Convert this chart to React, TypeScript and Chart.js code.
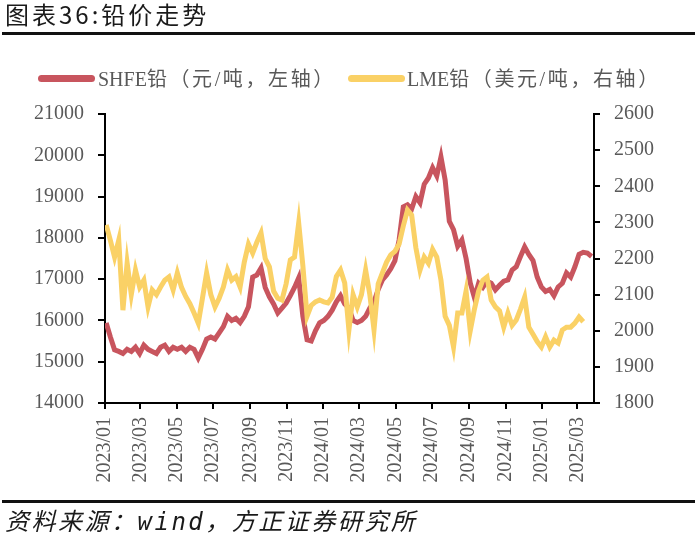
import React, { useEffect, useRef } from "react";
import { Chart, registerables } from "chart.js";

Chart.register(...registerables);

// ---- data ----
const START_UTC = Date.UTC(2023, 0, 1);
const DAY_MS = 86400000;
const FIRST_OBS_DAY = 2; // 2023-01-03
const STEP_DAYS = 7; // weekly observations

const tickLabels = [
  "2023/01", "2023/03", "2023/05", "2023/07", "2023/09", "2023/11",
  "2024/01", "2024/03", "2024/05", "2024/07", "2024/09", "2024/11",
  "2025/01", "2025/03",
];

const leftTicks = [14000, 15000, 16000, 17000, 18000, 19000, 20000, 21000];
const rightTicks = [1800, 1900, 2000, 2100, 2200, 2300, 2400, 2500, 2600];

// SHFE lead, CNY/t (left axis), weekly
const shfeValues = [
  15940, 15600, 15290, 15250, 15200, 15300, 15250, 15350, 15200, 15400,
  15300, 15250, 15200, 15350, 15400, 15250, 15350, 15300, 15350, 15250,
  15350, 15300, 15090, 15300, 15550, 15600, 15550, 15700, 15850, 16100,
  16000, 16050, 15950, 16100, 16330, 17050, 17100, 17270, 16800, 16570,
  16400, 16180, 16300, 16420, 16600, 16800, 17030, 16100, 15530, 15500,
  15750, 15940, 16000, 16100, 16250, 16450, 16600, 16400, 16300, 16000,
  15950, 16000, 16100, 16300, 16450, 16750, 16980, 17100, 17250, 17450,
  17950, 18750, 18800, 18700, 19000, 18850, 19300, 19450, 19700, 19500,
  19960, 19400, 18400, 18200, 17800, 17950, 17500, 16910, 16550, 16900,
  16800, 16950, 16900, 16740, 16850, 16950, 16980, 17220, 17300, 17550,
  17780, 17600, 17450, 17050, 16810, 16700, 16750, 16600, 16810, 16900,
  17150, 17050, 17300, 17600, 17650, 17630, 17550,
];

// LME lead, USD/t (right axis), weekly
const lmeValues = [
  2293, 2250, 2204, 2251, 2057, 2188, 2100, 2168, 2121, 2140,
  2066, 2113, 2100, 2121, 2140, 2149, 2113, 2160, 2120, 2095,
  2075, 2049, 2021, 2090, 2160, 2100, 2066, 2090, 2121, 2168,
  2140, 2150, 2121, 2190, 2240, 2215, 2245, 2271, 2200, 2177,
  2110, 2090, 2085, 2130, 2196, 2204, 2298, 2180, 2040, 2070,
  2080, 2085, 2080, 2077, 2093, 2150, 2168, 2132, 2002, 2100,
  2066, 2100, 2168, 2100, 2002, 2130, 2160, 2190, 2210, 2220,
  2240, 2290, 2334, 2320, 2230, 2168, 2204, 2187, 2225, 2204,
  2140, 2040, 2015, 1955, 2049, 2049, 2110, 2000, 2060, 2110,
  2140, 2149, 2085, 2066, 2055, 2010, 2049, 2015, 2030, 2060,
  2093, 2010, 1990, 1970, 1955, 1983, 1955, 1974, 1966, 2002,
  2010, 2010, 2021, 2038, 2025,
];

const RED = "#C8555E";
const YELLOW = "#FAD166";
const TEXT_GRAY = "#595959";
const SERIF = "'Liberation Serif', 'Times New Roman', 'Noto Sans CJK SC', serif";

function labelToDay(label: string): number {
  const [y, m] = label.split("/").map(Number);
  return (Date.UTC(y, m - 1, 1) - START_UTC) / DAY_MS;
}

const tickDays = tickLabels.map(labelToDay);
const toPoints = (vals: number[]) =>
  vals.map((v, i) => ({ x: FIRST_OBS_DAY + i * STEP_DAYS, y: v }));

export default function App() {
  const canvasRef = useRef<HTMLCanvasElement | null>(null);

  useEffect(() => {
    if (!canvasRef.current) return;
    const tickFont = { family: SERIF, size: 20 };
    const chart = new Chart(canvasRef.current, {
      type: "line",
      data: {
        datasets: [
          {
            label: "SHFE铅（元/吨，左轴）",
            data: toPoints(shfeValues),
            borderColor: RED,
            backgroundColor: RED,
            borderWidth: 5,
            pointRadius: 0,
            tension: 0,
            yAxisID: "y",
            order: 2,
          },
          {
            label: "LME铅（美元/吨，右轴）",
            data: toPoints(lmeValues),
            borderColor: YELLOW,
            backgroundColor: YELLOW,
            borderWidth: 5,
            pointRadius: 0,
            tension: 0,
            yAxisID: "y2",
            order: 1,
          },
        ],
      },
      options: {
        responsive: false,
        animation: false,
        devicePixelRatio: 1,
        layout: { padding: { top: 114, left: 0, right: 0, bottom: 0 } },
        plugins: { legend: { display: false }, tooltip: { enabled: false } },
        scales: {
          x: {
            type: "linear",
            min: 0,
            max: 818,
            afterBuildTicks: (s: any) => {
              s.ticks = tickDays.map((v) => ({ value: v }));
            },
            afterFit: (s: any) => {
              s.height = 135;
            },
            ticks: {
              autoSkip: false,
              maxRotation: 90,
              minRotation: 90,
              padding: 8,
              color: TEXT_GRAY,
              font: tickFont,
              callback: (v: any) => {
                const idx = tickDays.indexOf(Number(v));
                return idx >= 0 ? tickLabels[idx] : "";
              },
            },
            grid: {
              drawOnChartArea: false,
              drawTicks: true,
              tickLength: 6,
              color: "#000",
              lineWidth: 2,
            },
            border: { color: "#000", width: 2 },
          },
          y: {
            position: "left",
            min: leftTicks[0],
            max: leftTicks[leftTicks.length - 1],
            afterBuildTicks: (s: any) => {
              s.ticks = leftTicks.map((v) => ({ value: v }));
            },
            afterFit: (s: any) => {
              s.width = 105;
            },
            ticks: {
              padding: 14,
              color: TEXT_GRAY,
              font: tickFont,
              callback: (v: any) => String(v),
            },
            grid: {
              drawOnChartArea: false,
              drawTicks: true,
              tickLength: 7,
              color: "#000",
              lineWidth: 2,
            },
            border: { color: "#000", width: 2 },
          },
          y2: {
            position: "right",
            min: rightTicks[0],
            max: rightTicks[rightTicks.length - 1],
            afterBuildTicks: (s: any) => {
              s.ticks = rightTicks.map((v) => ({ value: v }));
            },
            afterFit: (s: any) => {
              s.width = 106;
            },
            ticks: {
              padding: 14,
              color: TEXT_GRAY,
              font: tickFont,
              callback: (v: any) => String(v),
            },
            grid: {
              drawOnChartArea: false,
              drawTicks: true,
              tickLength: 6,
              color: "#000",
              lineWidth: 2,
            },
            border: { color: "#000", width: 2 },
          },
        },
      },
    } as any);
    return () => chart.destroy();
  }, []);

  const legendText: React.CSSProperties = {
    position: "absolute",
    top: 66,
    fontFamily: SERIF,
    fontSize: 20,
    lineHeight: "26px",
    color: TEXT_GRAY,
    whiteSpace: "nowrap",
  };
  const cjkPart: React.CSSProperties = { letterSpacing: 2.6 };
  const legendBox = (color: string, left: number): React.CSSProperties => ({
    position: "absolute",
    left,
    top: 75,
    width: 57,
    height: 7,
    borderRadius: 4,
    background: color,
  });

  return (
    <div
      style={{
        position: "fixed",
        left: 0,
        top: 0,
        width: 700,
        height: 538,
        background: "#fff",
        overflow: "hidden",
      }}
    >
      <canvas
        ref={canvasRef}
        width={700}
        height={538}
        style={{ position: "absolute", left: 0, top: 0, width: 700, height: 538 }}
      />
      <div
        style={{
          position: "absolute",
          left: 5,
          top: 0,
          fontFamily: "'Noto Sans CJK SC', sans-serif",
          fontSize: 24,
          lineHeight: "28px",
          letterSpacing: 3,
          color: "#1a1a1a",
          whiteSpace: "nowrap",
        }}
      >
        图表36:铅价走势
      </div>
      <div
        style={{
          position: "absolute",
          left: 2,
          top: 32,
          width: 693,
          height: 3,
          background: "#111",
        }}
      />
      <div style={legendBox(RED, 38)} />
      <div style={{ ...legendText, left: 98 }}>
        SHFE<span style={cjkPart}>铅（元/吨，左轴）</span>
      </div>
      <div style={legendBox(YELLOW, 348)} />
      <div style={{ ...legendText, left: 407 }}>
        LME<span style={cjkPart}>铅（美元/吨，右轴）</span>
      </div>
      <div
        style={{
          position: "absolute",
          left: 2,
          top: 500,
          width: 693,
          height: 3,
          background: "#111",
        }}
      />
      <div
        style={{
          position: "absolute",
          left: 5,
          top: 507,
          fontFamily: "'DejaVu Sans Mono', 'Noto Sans CJK SC', monospace",
          fontStyle: "italic",
          fontSize: 24,
          lineHeight: "30px",
          letterSpacing: 2.5,
          color: "#1a1a1a",
          whiteSpace: "nowrap",
        }}
      >
        资料来源：wind，方正证券研究所
      </div>
    </div>
  );
}
